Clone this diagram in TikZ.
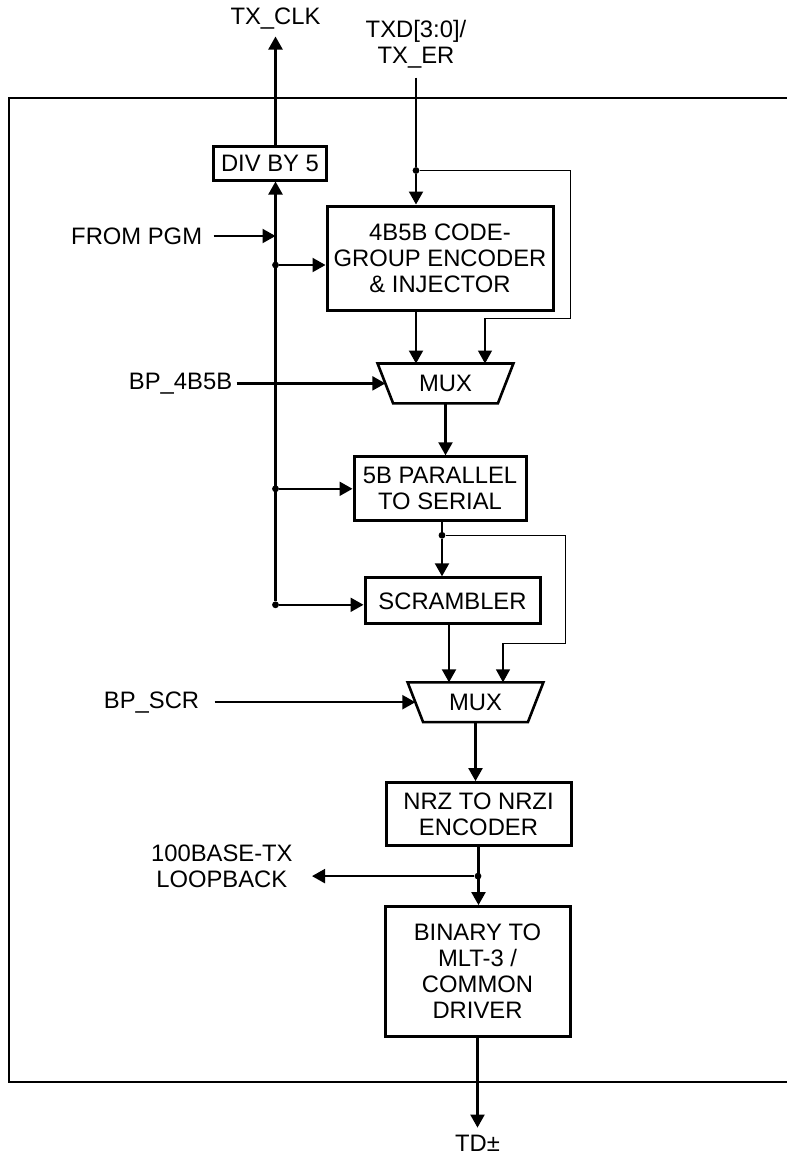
\documentclass[tikz,border=0pt]{standalone}
\usepackage{fontspec}
\setmainfont{Liberation Sans}
\usetikzlibrary{arrows.meta,positioning,calc}
\tikzset{
  >={Triangle[length=6.5pt,width=7pt]},
  box/.style={rectangle, draw, line width=1.5pt, align=center, inner sep=2pt},
  muxbox/.style={rectangle, inner sep=0pt, minimum width=67.5pt, minimum height=19.5pt},
  muxline/.style={draw, line width=1.3pt, line join=miter},
  flow/.style={->, line width=1.1pt},
  wire/.style={line width=1.1pt},
  fb/.style={->, line width=0.7pt},
  sig/.style={inner sep=0pt, align=center},
  junc/.style={circle, fill, inner sep=0pt, minimum size=3.4pt},
  frame/.style={line width=1.4pt},
}
\newcommand{\muxshape}[1]{%
  \draw[muxline] (#1.north west) -- (#1.north east) -- ([xshift=-7.75pt]#1.south east)
    -- ([xshift=7.75pt]#1.south west) -- cycle;}

\begin{document}
\begin{tikzpicture}[font=\fontsize{11.9}{13}\selectfont]
  \useasboundingbox (0,0) rectangle (393.5pt,-578.5pt);
  \draw[frame] (395pt,-49pt) -- (4.5pt,-49pt) -- (4.5pt,-541pt) -- (395pt,-541pt);

  \node[box, minimum width=113pt, minimum height=52pt] (enc) at (220pt,-129pt) {4B5B CODE-\\GROUP ENCODER\\\& INJECTOR};
  \node[box, minimum width=56.5pt, minimum height=17pt] (div) at ([xshift=-85pt,yshift=47.5pt]enc.center) {DIV BY 5};
  \node[muxbox, below=26pt of enc, xshift=2.75pt] (mux1) {MUX};
  \node[box, minimum width=86pt, minimum height=32pt, below=26pt of mux1, xshift=-2.75pt] (par) {5B PARALLEL\\TO SERIAL};
  \node[box, minimum width=87.5pt, minimum height=23pt, below=27pt of par, xshift=6.25pt] (scr) {SCRAMBLER};
  \node[muxbox, below=28.5pt of scr, xshift=11.5pt] (mux2) {MUX};
  \node[box, minimum width=92.5pt, minimum height=31.5pt, below=29.5pt of mux2, xshift=1.5pt] (nrz) {NRZ TO NRZI\\ENCODER};
  \node[box, minimum width=92.5pt, minimum height=65pt, below=29pt of nrz, xshift=-0.5pt] (bin) {BINARY TO\\MLT-3 /\\COMMON\\DRIVER};
  \muxshape{mux1}
  \muxshape{mux2}

  \coordinate (busx) at ([xshift=-25pt]enc.west);
  \coordinate (pgmin) at ([yshift=11pt]busx |- enc.west);
  \coordinate (clkout) at (busx |- div.north);
  \coordinate (mux1in) at ([xshift=3.875pt]mux1.west);
  \coordinate (mux2in) at ([xshift=3.875pt]mux2.west);
  \coordinate (fbin1) at ([xshift=19.75pt]mux1.north);
  \coordinate (fbin2) at ([xshift=13.75pt]mux2.north);

  \node[junc] (j0) at ([xshift=-12pt,yshift=17pt]enc.north) {};
  \node[junc] (j1) at ([yshift=-3.5pt]busx |- enc.west) {};
  \node[junc] (j2) at (busx |- par.west) {};
  \node[junc] (j3) at ([xshift=1pt,yshift=-6.5pt]par.south) {};
  \node[junc] (j4) at ([yshift=-2pt]busx |- scr.west) {};
  \node[junc] (j5) at ($(nrz.south)!0.5!(bin.north)$) {};
  \coordinate (lbtip) at ([xshift=-83pt]j5);

  \node[sig, above=57.5pt of clkout] (txclk) {TX\_CLK};
  \node[sig, above=49pt of j0] (txd) {TXD[3:0]/\\TX\_ER};
  \node[sig, left=36.5pt of pgmin] (pgm) {FROM PGM};
  \node[sig, left=76.4pt of mux1in] (bp1) {BP\_4B5B};
  \node[sig, left=107.9pt of mux2in] (bp2) {BP\_SCR};
  \node[sig, left=9.5pt of lbtip, yshift=5pt] (lbk) {100BASE-TX\\LOOPBACK};
  \node[sig, below=48.5pt of bin] (td) {TD±};

  \draw[flow, shorten >=3.5pt] (clkout) -- (txclk);
  \draw[wire, shorten <=4.5pt] (txd) -- (j0);
  \draw[flow] (j0) -- (j0 |- enc.north);
  \draw[flow, shorten <=5.5pt] (pgm) -- (pgmin);
  \draw[flow] (j4) -- (busx |- div.south);
  \draw[flow] (j1) -- (j1 -| enc.west);
  \draw[flow] (j2) -- (par);
  \draw[flow] (j4) -- (j4 -| scr.west);
  \draw[fb] (j0) -| ([xshift=8pt,yshift=-3.5pt]enc.south east) -| (fbin1);
  \draw[flow] (j0 |- enc.south) -- (j0 |- mux1.north);
  \draw[flow, shorten <=2pt] (bp1) -- (mux1in);
  \draw[flow] (mux1.south) -- (mux1.south |- par.north);
  \draw[wire] (par.south -| j3) -- (j3);
  \draw[flow] (j3) -- (j3 |- scr.north);
  \draw[fb] (j3) -| ([xshift=12pt,yshift=-9pt]scr.south east) -| (fbin2);
  \draw[flow] ([xshift=-1.75pt]scr.south) -- ([xshift=-1.75pt]scr.south |- mux2.north);
  \draw[flow, shorten <=7.5pt] (bp2) -- (mux2in);
  \draw[flow] (mux2.south) -- (mux2.south |- nrz.north);
  \draw[flow] (nrz.south) -- (nrz.south |- bin.north);
  \draw[flow] (j5) -- (lbtip);
  \draw[flow, shorten >=3.75pt] (bin) -- (td);
\end{tikzpicture}
\end{document}
